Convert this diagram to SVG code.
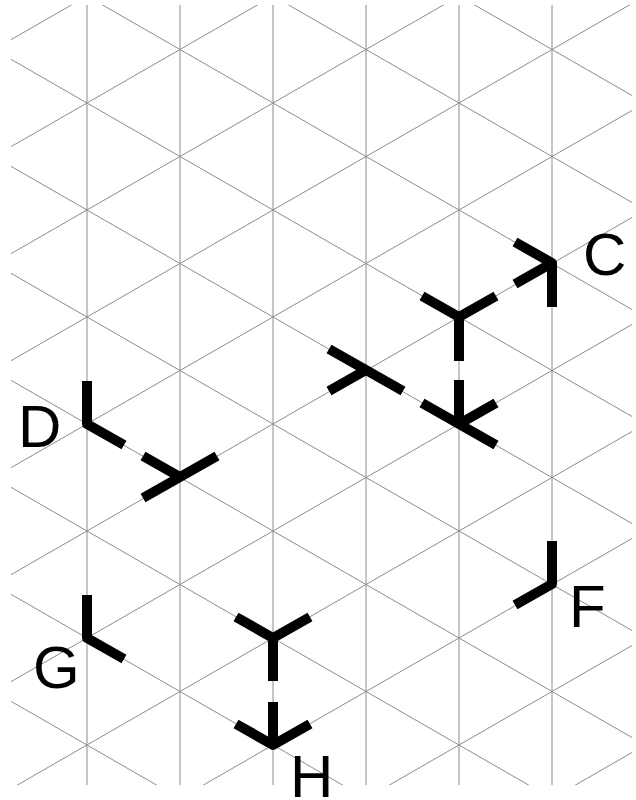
<svg xmlns="http://www.w3.org/2000/svg" width="636" height="800" viewBox="0 0 636 800">
<style>
.grid line{stroke:#8c8c8c;stroke-width:1;fill:none}
.arm{stroke:#000;stroke-width:10;fill:none;stroke-linejoin:round;stroke-linecap:butt}
.lbl{font-family:"Liberation Sans",Arial,sans-serif;font-size:60px;fill:#000}
</style>
<defs><clipPath id="gc"><rect x="11" y="5" width="621" height="780"/></clipPath></defs>
<rect width="636" height="800" fill="#fff"/>
<g id="connectors" class="grid" clip-path="url(#gc)">
<line x1="87" y1="5" x2="87" y2="785"/><line x1="180" y1="5" x2="180" y2="785"/><line x1="273" y1="5" x2="273" y2="785"/><line x1="366" y1="5" x2="366" y2="785"/><line x1="459" y1="5" x2="459" y2="785"/><line x1="552" y1="5" x2="552" y2="785"/>
<line x1="11" y1="-261.7" x2="632" y2="95.5"/><line x1="11" y1="-154.7" x2="632" y2="202.5"/><line x1="11" y1="-47.7" x2="632" y2="309.5"/><line x1="11" y1="59.3" x2="632" y2="416.5"/><line x1="11" y1="166.3" x2="632" y2="523.5"/><line x1="11" y1="273.3" x2="632" y2="630.5"/><line x1="11" y1="380.3" x2="632" y2="737.5"/><line x1="11" y1="487.3" x2="632" y2="844.5"/><line x1="11" y1="594.3" x2="632" y2="951.5"/><line x1="11" y1="701.3" x2="632" y2="1058.5"/>
<line x1="11" y1="39.7" x2="632" y2="-317.5"/><line x1="11" y1="146.7" x2="632" y2="-210.5"/><line x1="11" y1="253.7" x2="632" y2="-103.5"/><line x1="11" y1="360.7" x2="632" y2="3.5"/><line x1="11" y1="467.7" x2="632" y2="110.5"/><line x1="11" y1="574.7" x2="632" y2="217.5"/><line x1="11" y1="681.7" x2="632" y2="324.5"/><line x1="11" y1="788.7" x2="632" y2="431.5"/><line x1="11" y1="895.7" x2="632" y2="538.5"/><line x1="11" y1="1002.7" x2="632" y2="645.5"/><line x1="11" y1="1109.7" x2="632" y2="752.5"/>
</g>
<g id="node-c"><path class="arm" d="M515 242L552 263L515 284M552 263V307"/><text class="lbl" x="583" y="275">C</text></g>
<g id="node-y1"><path class="arm" d="M422 296L459 317L496 296M459 317V361"/></g>
<g id="node-k"><path class="arm" d="M422 403L459 424L496 403M459 424L496 445M459 424V380"/></g>
<g id="node-t"><path class="arm" d="M329 349L366 370L403 391M366 370L329 391"/></g>
<g id="node-d"><path class="arm" d="M87 381V424L124 445"/><text class="lbl" x="18" y="447">D</text></g>
<g id="node-y2"><path class="arm" d="M143 456L180 477L217 456M180 477L143 498"/></g>
<g id="node-g"><path class="arm" d="M87 595V638L124 659"/><text class="lbl" x="33" y="688">G</text></g>
<g id="node-y3"><path class="arm" d="M236 617L273 638L310 617M273 638V681"/></g>
<g id="node-h"><path class="arm" d="M236 724L273 745L310 724M273 745V702"/><text class="lbl" x="290" y="797">H</text></g>
<g id="node-f"><path class="arm" d="M552 541V584L515 605"/><text class="lbl" x="569" y="627">F</text></g>
</svg>
